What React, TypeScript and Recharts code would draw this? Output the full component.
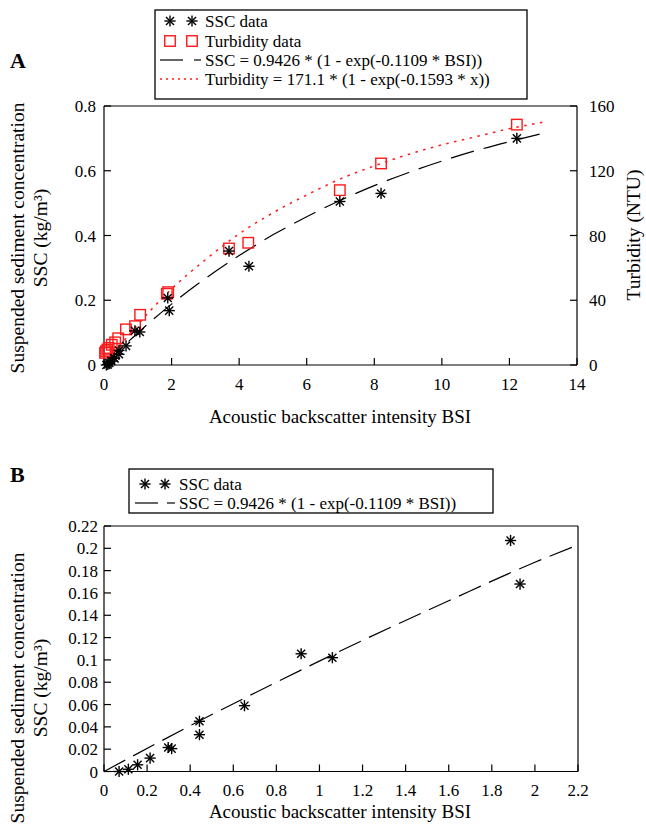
import React from 'react';
import { ComposedChart, Scatter, Line, XAxis, YAxis, Customized } from 'recharts';

const FONT = '"Liberation Serif", "Times New Roman", serif';

// ---------- Panel A data ----------
const sscBsi = [0.07, 0.113, 0.156, 0.214, 0.298, 0.314, 0.443, 0.443, 0.652, 0.915, 1.06, 1.887, 1.931, 3.7, 4.29, 6.98, 8.2, 12.22];
const sscVal = [0.0, 0.002, 0.006, 0.012, 0.0215, 0.0205, 0.045, 0.033, 0.059, 0.1055, 0.102, 0.207, 0.168, 0.352, 0.305, 0.505, 0.53, 0.7];

const turbBsi = [0.03, 0.06, 0.1, 0.14, 0.23, 0.33, 0.42, 0.65, 0.92, 1.07, 1.86, 1.9, 3.7, 4.27, 6.98, 8.2, 12.22];
const turbVal = [7.5, 8.5, 9.5, 10.5, 12.5, 14, 16.5, 22, 24, 31, 44, 45, 72, 75.5, 108, 124.5, 148.5];

const fitABsi = [0, 1, 2, 3, 4, 5, 6, 7, 8, 9, 10, 11, 12, 13];
const fitASsc = [0, 0.099, 0.188, 0.267, 0.338, 0.402, 0.458, 0.509, 0.554, 0.594, 0.63, 0.662, 0.69, 0.716];
const fitATurb = [0, 25, 47, 65, 81, 94, 105, 115, 123, 130, 136, 141, 146, 150];

const xTicksA = [0, 2, 4, 6, 8, 10, 12, 14];
const xTopTicksA = [2.47, 4.47, 6.47, 8.47, 10.47, 12.47];
const yTicksA = [0, 0.2, 0.4, 0.6, 0.8];
const turbTicksA = [0, 40, 80, 120, 160];

// ---------- Panel B data ----------
const fitBBsi = [0, 0.4, 0.8, 1.2, 1.6, 2.0, 2.2];
const fitBSsc = [0, 0.041, 0.08, 0.1175, 0.153, 0.1875, 0.203];
const xTicksB = [0, 0.2, 0.4, 0.6, 0.8, 1, 1.2, 1.4, 1.6, 1.8, 2, 2.2];
const yTicksB = [0, 0.02, 0.04, 0.06, 0.08, 0.1, 0.12, 0.14, 0.16, 0.18, 0.2, 0.22];

const legendA = ['SSC data', 'Turbidity data', 'SSC = 0.9426 * (1 - exp(-0.1109 * BSI))', 'Turbidity = 171.1 * (1 - exp(-0.1593 * x))'];
const legendB = ['SSC data', 'SSC = 0.9426 * (1 - exp(-0.1109 * BSI))'];
const xTitle = 'Acoustic backscatter intensity BSI';
const yTitle1 = 'Suspended sediment concentration';
const yTitle2 = 'SSC (kg/m³)';
const yTitleRight = 'Turbidity (NTU)';

const pairs = (xs: number[], ys: number[]) => xs.map((x, i) => ({ x, y: ys[i] }));
const sscData = pairs(sscBsi, sscVal);
const turbData = pairs(turbBsi, turbVal);
const fitASscData = pairs(fitABsi, fitASsc);
const fitATurbData = pairs(fitABsi, fitATurb);
const fitBData = pairs(fitBBsi, fitBSsc);
const sscDataB = sscData.filter((d) => d.x <= 2.2);

const RED = '#ff1a1a';

const Asterisk = ({ cx, cy, r = 5.6 }: any) => {
  const d = r * 0.72;
  return (
    <g stroke="#000" strokeWidth={1.4}>
      <line x1={cx - r} y1={cy} x2={cx + r} y2={cy} />
      <line x1={cx} y1={cy - r} x2={cx} y2={cy + r} />
      <line x1={cx - d} y1={cy - d} x2={cx + d} y2={cy + d} />
      <line x1={cx - d} y1={cy + d} x2={cx + d} y2={cy - d} />
    </g>
  );
};

const Square = ({ cx, cy, s = 10.5 }: any) => (
  <rect x={cx - s / 2} y={cy - s / 2} width={s} height={s} fill="none" stroke={RED} strokeWidth={1.4} />
);

const tickStyle = { fill: '#000', fontSize: 17, fontFamily: FONT };
const lineStyle = { stroke: '#000', strokeWidth: 1.2 };

const txt = { fontFamily: FONT, fill: '#000' };

const OverlayA = () => (
  <g>
    <text x={10} y={68} fontSize={22} fontWeight="bold" {...txt}>A</text>
    <rect x={155} y={10} width={372} height={89} fill="#fff" stroke="#000" strokeWidth={1.3} />
    <Asterisk cx={170} cy={21} />
    <Asterisk cx={192} cy={21} />
    <text x={205} y={27} fontSize={17} {...txt}>{legendA[0]}</text>
    <Square cx={170} cy={41} />
    <Square cx={192} cy={41} />
    <text x={205} y={47} fontSize={17} {...txt}>{legendA[1]}</text>
    <line x1={160} y1={60} x2={183} y2={60} stroke="#000" strokeWidth={1.2} />
    <line x1={194} y1={60} x2={201} y2={60} stroke="#000" strokeWidth={1.2} />
    <text x={205} y={66} fontSize={17} {...txt}>{legendA[2]}</text>
    <line x1={160} y1={79} x2={202} y2={79} stroke={RED} strokeWidth={1.4} strokeDasharray="2 4" />
    <text x={205} y={85} fontSize={17} {...txt}>{legendA[3]}</text>
    <text transform="rotate(-90, 17, 238)" x={17} y={238} fontSize={19.5} textAnchor="middle" dominantBaseline="central" {...txt}>{yTitle1}</text>
    <text transform="rotate(-90, 40, 238)" x={40} y={238} fontSize={19.5} textAnchor="middle" dominantBaseline="central" {...txt}>{yTitle2}</text>
    <text transform="rotate(-90, 633, 235)" x={633} y={235} fontSize={19.5} textAnchor="middle" dominantBaseline="central" {...txt}>{yTitleRight}</text>
    <text x={340} y={423} fontSize={19} textAnchor="middle" {...txt}>{xTitle}</text>
  </g>
);

const OverlayB = () => (
  <g>
    <text x={10} y={42} fontSize={22} fontWeight="bold" {...txt}>B</text>
    <rect x={129} y={29} width={364} height={44} fill="#fff" stroke="#000" strokeWidth={1.3} />
    <Asterisk cx={145} cy={44} />
    <Asterisk cx={165} cy={44} />
    <text x={179} y={50} fontSize={17} {...txt}>{legendB[0]}</text>
    <line x1={135} y1={63} x2={158} y2={63} stroke="#000" strokeWidth={1.2} />
    <line x1={167} y1={63} x2={175} y2={63} stroke="#000" strokeWidth={1.2} />
    <text x={179} y={69} fontSize={17} {...txt}>{legendB[1]}</text>
    <text transform="rotate(-90, 17, 248)" x={17} y={248} fontSize={19.5} textAnchor="middle" dominantBaseline="central" {...txt}>{yTitle1}</text>
    <text transform="rotate(-90, 40, 248)" x={40} y={248} fontSize={19.5} textAnchor="middle" dominantBaseline="central" {...txt}>{yTitle2}</text>
    <text x={340} y={378} fontSize={19} textAnchor="middle" {...txt}>{xTitle}</text>
  </g>
);

const fmt = (v: number) => String(v);

export default function App() {
  return (
    <div style={{ position: 'absolute', left: 0, top: 0, width: 646, height: 831, background: '#fff' }}>
      <div style={{ position: 'absolute', left: 0, top: 0 }}>
        <ComposedChart width={646} height={440} margin={{ top: 105, right: 68, bottom: 74, left: 103 }}>
          <XAxis xAxisId="b" type="number" dataKey="x" domain={[0, 14]} ticks={xTicksA} interval={0}
            orientation="bottom" height={1} tickSize={-7} tickMargin={20}
            axisLine={lineStyle} tickLine={lineStyle} tick={tickStyle} tickFormatter={fmt} />
          <XAxis xAxisId="t" type="number" dataKey="x" domain={[0, 14]} ticks={xTopTicksA} interval={0}
            orientation="top" height={1} tickSize={-7} axisLine={lineStyle} tickLine={lineStyle} tick={false} />
          <YAxis yAxisId="l" type="number" dataKey="y" domain={[0, 0.8]} ticks={yTicksA} interval={0}
            width={1} tickSize={-7} tickMargin={15} axisLine={lineStyle} tickLine={lineStyle} tick={tickStyle} tickFormatter={fmt} />
          <YAxis yAxisId="r" orientation="right" type="number" dataKey="y" domain={[0, 160]} ticks={turbTicksA} interval={0}
            width={1} tickSize={-7} tickMargin={19} axisLine={lineStyle} tickLine={lineStyle} tick={{ ...tickStyle, textAnchor: 'start' }} tickFormatter={fmt} />
          <Line xAxisId="b" yAxisId="l" data={fitASscData} dataKey="y" type="monotone" stroke="#000" strokeWidth={1.2}
            strokeDasharray="24 10" dot={false} activeDot={false} isAnimationActive={false} />
          <Line xAxisId="b" yAxisId="r" data={fitATurbData} dataKey="y" type="monotone" stroke={RED} strokeWidth={1.5}
            strokeDasharray="2.5 5.5" dot={false} activeDot={false} isAnimationActive={false} />
          <Scatter xAxisId="b" yAxisId="r" data={turbData} dataKey="y" shape={(p: any) => <Square cx={p.cx} cy={p.cy} />} isAnimationActive={false} />
          <Scatter xAxisId="b" yAxisId="l" data={sscData} dataKey="y" shape={(p: any) => <Asterisk cx={p.cx} cy={p.cy} />} isAnimationActive={false} />
          <Customized component={OverlayA} />
        </ComposedChart>
      </div>
      <div style={{ position: 'absolute', left: 0, top: 440 }}>
        <ComposedChart width={646} height={391} margin={{ top: 85, right: 67, bottom: 58.5, left: 103 }}>
          <XAxis xAxisId="b" type="number" dataKey="x" domain={[0, 2.2]} ticks={xTicksB} interval={0}
            orientation="bottom" height={1} tickSize={-7} tickMargin={19}
            axisLine={lineStyle} tickLine={lineStyle} tick={tickStyle} tickFormatter={fmt} />
          <XAxis xAxisId="t" type="number" dataKey="x" domain={[0, 2.2]} ticks={xTicksB} interval={0}
            orientation="top" height={1} tickSize={-7} axisLine={lineStyle} tickLine={lineStyle} tick={false} />
          <YAxis yAxisId="l" type="number" dataKey="y" domain={[0, 0.22]} ticks={yTicksB} interval={0}
            width={1} tickSize={-7} tickMargin={13} axisLine={lineStyle} tickLine={lineStyle} tick={tickStyle} tickFormatter={fmt} />
          <YAxis yAxisId="r" orientation="right" type="number" dataKey="y" domain={[0, 0.22]} ticks={yTicksB} interval={0}
            width={1} tickSize={-7} axisLine={lineStyle} tickLine={lineStyle} tick={false} />
          <Line xAxisId="b" yAxisId="l" data={fitBData} dataKey="y" type="monotone" stroke="#000" strokeWidth={1.2}
            strokeDasharray="24 9" dot={false} activeDot={false} isAnimationActive={false} />
          <Scatter xAxisId="b" yAxisId="l" data={sscDataB} dataKey="y" shape={(p: any) => <Asterisk cx={p.cx} cy={p.cy} />} isAnimationActive={false} />
          <Customized component={OverlayB} />
        </ComposedChart>
      </div>
    </div>
  );
}
